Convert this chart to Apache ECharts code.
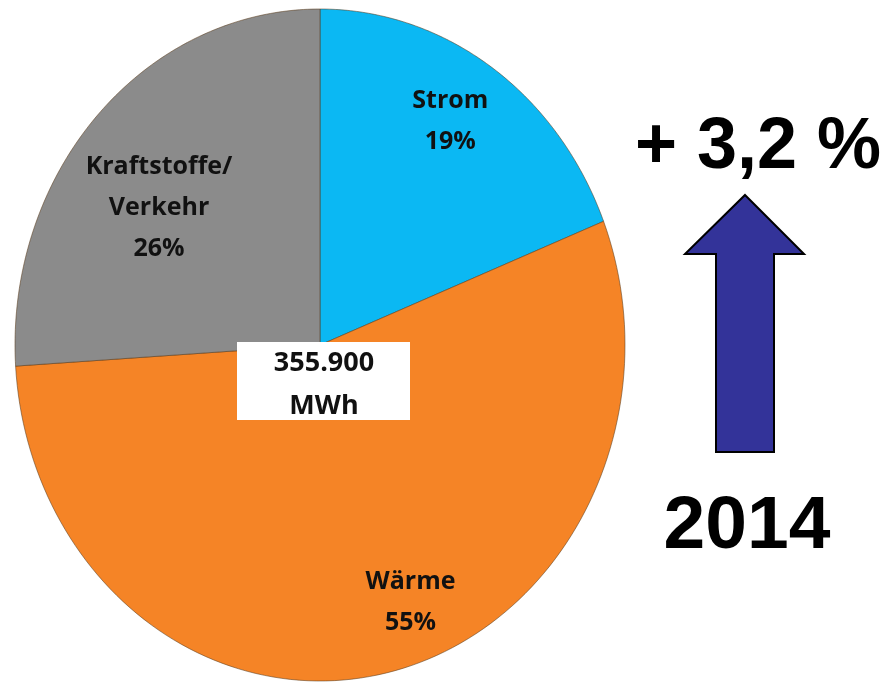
<!DOCTYPE html>
<html>
<head>
<meta charset="utf-8">
<script src="https://cdn.jsdelivr.net/npm/echarts@6/dist/echarts.min.js"></script>
<style>
  html, body { margin: 0; padding: 0; background: #ffffff; }
  #chart { width: 889px; height: 688px; }
</style>
</head>
<body>
<div id="chart"></div>
<script>
// Anteile Endenergie 2014
var categories = ['Strom', 'Wärme', 'Kraftstoffe/\nVerkehr']
var shares = [19, 55, 26]
var sliceColors = ['#0bb8f3', '#f58426', '#8b8b8b']
var totalText = ['355.900', 'MWh']
var changeText = '+ 3,2 %'
var yearText = '2014'

// label nudges (px) per slice, like the original slide
var labelNudge = [[0, -12], [40, 8], [8, 38]]

var chart = echarts.init(document.getElementById('chart'))

// start / end fraction of each slice, clockwise from 12 o'clock
var sum = shares.reduce(function (a, b) { return a + b }, 0)
var acc = 0
var sliceData = shares.map(function (v, i) {
  var s = acc / sum
  acc += v
  return { value: [s, acc / sum, i], name: categories[i] }
})

function toAngle(frac) {
  return Math.PI / 2 - frac * Math.PI * 2
}

var option = {
  animation: false,
  grid: { left: 15, top: 9, width: 610, height: 672 },
  xAxis: { type: 'value', min: -1, max: 1, show: false },
  yAxis: { type: 'value', min: -1, max: 1, show: false },
  series: [
    {
      type: 'custom',
      coordinateSystem: 'cartesian2d',
      data: sliceData,
      renderItem: function (params, api) {
        var s = api.value(0)
        var e = api.value(1)
        var idx = api.value(2)
        var pts = [api.coord([0, 0])]
        var steps = 120
        for (var k = 0; k <= steps; k++) {
          var a = toAngle(s + (e - s) * k / steps)
          pts.push(api.coord([Math.cos(a), Math.sin(a)]))
        }
        var mid = toAngle((s + e) / 2)
        var lp = api.coord([0.76 * Math.cos(mid), 0.76 * Math.sin(mid)])
        var pct = Math.round(shares[idx] / sum * 100) + '%'
        return {
          type: 'group',
          children: [
            {
              type: 'polygon',
              shape: { points: pts },
              style: {
                fill: sliceColors[idx],
                stroke: 'rgba(90,60,30,0.55)',
                lineWidth: 1
              }
            },
            {
              type: 'text',
              x: lp[0] + labelNudge[idx][0],
              y: lp[1] + labelNudge[idx][1],
              style: {
                text: categories[idx] + '\n' + pct,
                fill: '#111111',
                font: 'bold 25px "Open Sans", sans-serif',
                lineHeight: 41,
                align: 'center',
                verticalAlign: 'middle'
              }
            }
          ]
        }
      }
    }
  ],
  graphic: [
    {
      type: 'rect',
      z: 100,
      shape: { x: 237, y: 342, width: 173, height: 78 },
      style: { fill: '#ffffff' }
    },
    {
      type: 'text',
      z: 101,
      x: 324, y: 385,
      style: {
        text: totalText.join('\n'),
        fill: '#111111',
        font: 'bold 27px "Open Sans", sans-serif',
        lineHeight: 43,
        align: 'center',
        verticalAlign: 'middle'
      }
    },
    {
      type: 'polygon',
      z: 100,
      shape: {
        points: [[745, 195], [804, 254], [774, 254], [774, 452], [716, 452], [716, 254], [685, 254]]
      },
      style: { fill: '#333399', stroke: '#000000', lineWidth: 2 }
    },
    {
      type: 'text',
      z: 100,
      x: 758, y: 148,
      style: {
        text: changeText,
        fill: '#000000',
        font: 'bold 72px "Liberation Sans", Arial, sans-serif',
        align: 'center',
        verticalAlign: 'middle'
      }
    },
    {
      type: 'text',
      z: 100,
      x: 747, y: 527,
      style: {
        text: yearText,
        fill: '#000000',
        font: 'bold 75px "Liberation Sans", Arial, sans-serif',
        align: 'center',
        verticalAlign: 'middle'
      }
    }
  ]
}

chart.setOption(option)
</script>
</body>
</html>
